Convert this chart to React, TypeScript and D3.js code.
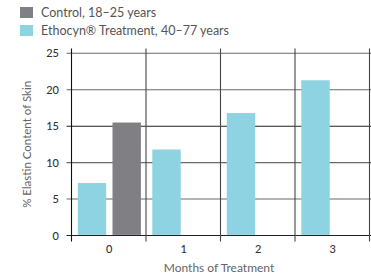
import React from "react";
import * as d3 from "d3";

const categories = ["0", "1", "2", "3"];
const ethocynValues = [7.2, 11.8, 16.8, 21.3];
const controlValues = [15.5, null, null, null];
const yTicks = [0, 5, 10, 15, 20, 25];
const legendLabels = ["Control, 18–25 years", "Ethocyn® Treatment, 40–77 years"];

const W = 371, H = 278;
const left = 71.5, right = 369.5, top = 53.3, bottom = 235.5;
const BLUE = "#8ed3e2";
const GRAY = "#808084";
const FONT = "Lato, 'Open Sans', sans-serif";

export default function App() {
  const x = d3.scaleBand<string>().domain(categories).range([left, right]).paddingInner(0).paddingOuter(0);
  const y = d3.scaleLinear().domain([0, 25]).range([bottom, top]);
  const bw = x.bandwidth();
  const barW = 28.4;
  const off = 6.3;
  return (
    <svg width={W} height={H} style={{ position: "absolute", left: 0, top: 0, background: "#fff" }}>
      {/* legend */}
      <rect x={20} y={7} width={13} height={11} fill={GRAY} />
      <text x={41} y={17} fontFamily={FONT} fontSize={12.5} fill="#555">{legendLabels[0]}</text>
      <rect x={20} y={25} width={13} height={11} fill={BLUE} />
      <text x={41} y={34.5} fontFamily={FONT} fontSize={12.5} fill="#555">{legendLabels[1]}</text>

      {/* horizontal gridlines */}
      {yTicks.map((t) => (
        <line key={t} x1={66.5} x2={W} y1={y(t)} y2={y(t)} stroke={t === 0 || t === 15 ? "#222" : "#6a6a6a"} strokeWidth={1.1} />
      ))}
      {yTicks.map((t) => (
        <text key={"l" + t} x={59} y={y(t) + 4} textAnchor="end" fontFamily={FONT} fontSize={11} fontWeight={500} fill="#333">{t}</text>
      ))}

      {/* bars */}
      {categories.map((c, i) => (
        <g key={c}>
          <rect x={x(c)! + off} y={y(ethocynValues[i])} width={barW} height={y(0) - y(ethocynValues[i]) - 0.6} fill={BLUE} />
          {controlValues[i] != null && (
            <rect x={x(c)! + off * 2 + barW} y={y(controlValues[i] as number)} width={barW} height={y(0) - y(controlValues[i] as number) - 0.6} fill={GRAY} />
          )}
        </g>
      ))}

      {/* vertical lines */}
      {[left, ...categories.map((c) => x(c)! + bw)].map((vx, i) => (
        <line key={"v" + i} x1={vx} x2={vx} y1={48.5} y2={241.5} stroke={i === 0 ? "#111" : "#444"} strokeWidth={1.1} />
      ))}

      {/* x tick labels */}
      {categories.map((c) => (
        <text key={"x" + c} x={x(c)! + bw / 2 + 0.5} y={253} textAnchor="middle" fontFamily={FONT} fontSize={11} fontWeight={500} fill="#333">{c}</text>
      ))}

      <text x={219} y={272} textAnchor="middle" fontFamily={FONT} fontSize={12} fill="#666">Months of Treatment</text>
      <text transform={`translate(31,${(top + bottom) / 2}) rotate(-90)`} textAnchor="middle" fontFamily={FONT} fontSize={11.5} fill="#666">% Elastin Content of Skin</text>
    </svg>
  );
}
